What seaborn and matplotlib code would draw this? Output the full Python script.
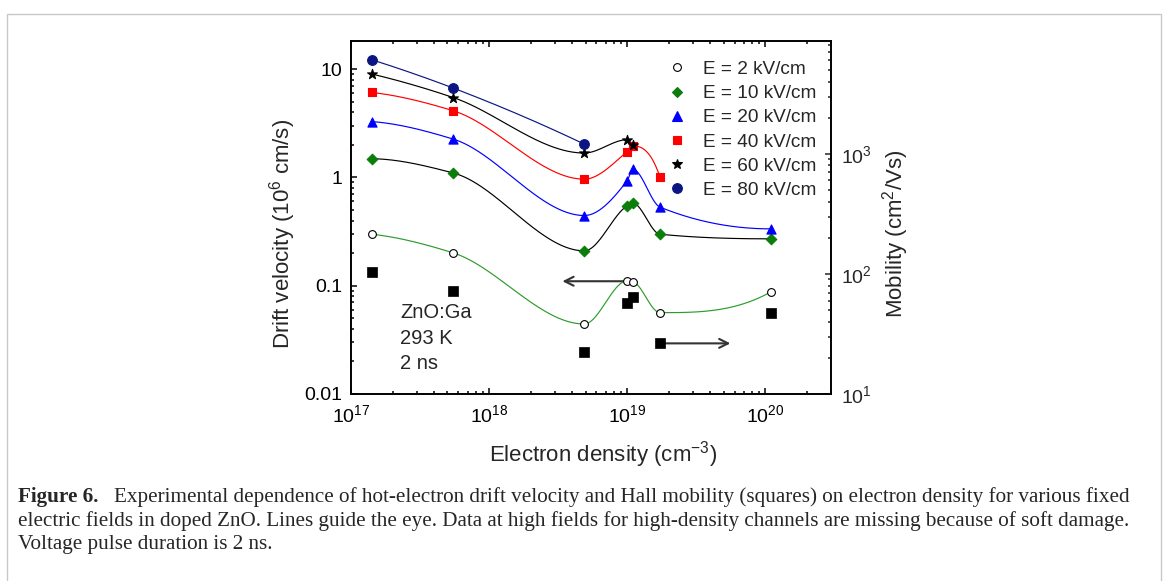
import numpy as np
import pandas as pd
import matplotlib
matplotlib.use("Agg")
import matplotlib.pyplot as plt
import seaborn as sns
from matplotlib.ticker import LogLocator, FixedLocator, FixedFormatter, NullFormatter, LogFormatterMathtext
from matplotlib.lines import Line2D
from matplotlib.patches import Rectangle

# ---------------- data ----------------
density = [1.42e17, 5.5e17, 4.9e18, 1.0e19, 1.1e19, 1.73e19, 1.1e20]
v_E2 = [0.299, 0.201, 0.0443, 0.111, 0.109, 0.0564, 0.0877]
v_E10 = [1.49, 1.10, 0.210, 0.546, 0.579, 0.299, 0.271]
v_E20 = [3.28, 2.26, 0.445, 0.93, 1.19, 0.532, 0.335]
v_E40 = [6.09, 4.13, 0.964, 1.73, 1.96, 1.01]
v_E60 = [9.01, 5.47, 1.68, 2.23, 2.00]
v_E80 = [12.2, 6.69, 2.03]
mobility = [104.5, 72.6, 22.5, 57.3, 64.7, 26.4, 47.0]
field_labels = ["E = 2 kV/cm", "E = 10 kV/cm", "E = 20 kV/cm",
                "E = 40 kV/cm", "E = 60 kV/cm", "E = 80 kV/cm"]
y_ticklabels_left = ["0.01", "0.1", "1", "10"]
sample_text = ["ZnO:Ga", "293 K", "2 ns"]
caption_bold = "Figure 6."
caption_lines = [
    "Experimental dependence of hot-electron drift velocity and Hall mobility (squares) on electron density for various fixed",
    "electric fields in doped ZnO. Lines guide the eye. Data at high fields for high-density channels are missing because of soft damage.",
    "Voltage pulse duration is 2 ns.",
]

# ---------------- style ----------------
sns.set_style("ticks")
plt.rcParams['font.family'] = ['Liberation Sans', 'DejaVu Sans']
plt.rcParams['mathtext.default'] = 'regular'

W, H, DPI = 1167, 581, 100
fig = plt.figure(figsize=(W / DPI, H / DPI), dpi=DPI)
fig.patch.set_facecolor('white')
ax = fig.add_axes([351 / W, 1 - 394 / H, 480 / W, 353 / H])
ax2 = ax.twinx()


def pchip(x, y, xn):
    x = np.asarray(x, float); y = np.asarray(y, float)
    h = np.diff(x); d = np.diff(y) / h
    n = len(x)
    m = np.zeros(n)
    for k in range(1, n - 1):
        if d[k - 1] * d[k] > 0:
            w1 = 2 * h[k] + h[k - 1]; w2 = h[k] + 2 * h[k - 1]
            m[k] = (w1 + w2) / (w1 / d[k - 1] + w2 / d[k])

    def end(h0, h1, d0, d1):
        e = ((2 * h0 + h1) * d0 - h0 * d1) / (h0 + h1)
        if np.sign(e) != np.sign(d0):
            e = 0.0
        elif np.sign(d0) != np.sign(d1) and abs(e) > abs(3 * d0):
            e = 3 * d0
        return e
    m[0] = end(h[0], h[1], d[0], d[1])
    m[-1] = end(h[-1], h[-2], d[-1], d[-2])
    idx = np.clip(np.searchsorted(x, xn) - 1, 0, n - 2)
    t = (xn - x[idx]) / h[idx]
    h00 = 2 * t**3 - 3 * t**2 + 1
    h10 = t**3 - 2 * t**2 + t
    h01 = -2 * t**3 + 3 * t**2
    h11 = t**3 - t**2
    return h00 * y[idx] + h10 * h[idx] * m[idx] + h01 * y[idx + 1] + h11 * h[idx] * m[idx + 1]


series = [
    (v_E2, 'o', 'white', 'black', '#2e9b2e', 5.6),
    (v_E10, 'D', '#0a7d0a', '#0a7d0a', 'black', 5.4),
    (v_E20, '^', '#0000ff', '#0000ff', '#0000ff', 6.6),
    (v_E40, 's', '#ff0000', '#ff0000', '#ff0000', 6.0),
    (v_E60, '*', 'black', 'black', 'black', 7.4),
    (v_E80, 'o', '#0b1682', '#0b1682', '#0b1682', 7.0),
]

ax.set_xscale('log'); ax.set_yscale('log')
ax2.set_yscale('log')

handles = []
for (vals, mk, fc, ec, lc, ms), lab in zip(series, field_labels):
    xs = np.array(density[:len(vals)])
    lx = np.log10(xs); ly = np.log10(vals)
    xn = np.linspace(lx[0], lx[-1], 400)
    yn = pchip(lx, ly, xn)
    curve = pd.DataFrame({'x': 10**xn, 'y': 10**yn})
    sns.lineplot(data=curve, x='x', y='y', ax=ax, color=lc, lw=0.85,
                 sort=False, estimator=None, legend=False, zorder=2)
    pts = pd.DataFrame({'x': xs, 'y': vals})
    sns.scatterplot(data=pts, x='x', y='y', ax=ax, marker=mk, s=ms**2,
                    color=fc, edgecolor=ec, linewidth=0.8, legend=False, zorder=3)
    handles.append(Line2D([], [], ls='none', marker=mk, markersize=ms,
                          markerfacecolor=fc, markeredgecolor=ec, markeredgewidth=0.8))

mob = pd.DataFrame({'x': density, 'y': mobility})
sns.scatterplot(data=mob, x='x', y='y', ax=ax2, marker='s', s=7.4**2,
                color='black', edgecolor='black', linewidth=0.5, legend=False, zorder=3)

# limits / ticks
ax.set_xlim(1e17, 3e20)
ax.set_ylim(0.01, 18.2)
ax2.set_ylim(10, 8700)

ax.xaxis.set_major_locator(LogLocator(base=10, numticks=10))
ax.xaxis.set_minor_locator(LogLocator(base=10, subs=np.arange(2, 10), numticks=20))
ax.xaxis.set_major_formatter(LogFormatterMathtext())
ax.xaxis.set_minor_formatter(NullFormatter())
ax.yaxis.set_major_locator(FixedLocator([0.01, 0.1, 1, 10]))
ax.yaxis.set_major_formatter(FixedFormatter(y_ticklabels_left))
ax.yaxis.set_minor_locator(LogLocator(base=10, subs=np.arange(2, 10), numticks=20))
ax.yaxis.set_minor_formatter(NullFormatter())
ax2.yaxis.set_major_locator(LogLocator(base=10, numticks=10))
ax2.yaxis.set_major_formatter(LogFormatterMathtext())
ax2.yaxis.set_minor_locator(LogLocator(base=10, subs=np.arange(2, 10), numticks=20))
ax2.yaxis.set_minor_formatter(NullFormatter())

ax.tick_params(which='both', direction='in', top=True, right=False, labelsize=14,
               width=1.1, colors='black')
ax.tick_params(which='major', length=4.5)
ax.tick_params(which='minor', length=2.5)
ax.tick_params(axis='y', pad=6)
ax.tick_params(axis='x', pad=7.5)
ax2.tick_params(which='both', direction='in', labelsize=14, width=1.1, pad=7)
ax2.tick_params(which='major', length=4.5)
ax2.tick_params(which='minor', length=2.5)
for a in (ax, ax2):
    for s in a.spines.values():
        s.set_linewidth(1.2); s.set_color('black')

# labels
ax.set_xlabel("Electron density (cm$^{-3}$)", fontsize=16)
ax.set_ylabel("Drift velocity (10$^6$ cm/s)", fontsize=16)
ax2.set_ylabel("Mobility (cm$^2$/Vs)", fontsize=16)
ax.xaxis.set_label_coords((603 - 351) / 480, (394 - 455) / 353)
ax.xaxis.label.set_va('center')
ax.yaxis.set_label_coords((283 - 351) / 480, (394 - 234) / 353)
ax.yaxis.label.set_va('center')
ax2.yaxis.set_label_coords((896 - 351) / 480, (394 - 234) / 353)
ax2.yaxis.label.set_va('center')

# legend
leg = ax.legend(handles, field_labels, loc='upper left', bbox_to_anchor=(0.659, 0.944),
                frameon=False, fontsize=13.7, handlelength=1.0, handletextpad=0.87,
                labelspacing=0.36, borderpad=0, borderaxespad=0)

# arrows
ax.annotate('', xy=(3.4e18, 0.11), xytext=(9.7e18, 0.11),
            arrowprops=dict(arrowstyle='->', color='#333333', lw=1.5,
                            mutation_scale=16, shrinkA=0, shrinkB=0), zorder=1)
ax2.annotate('', xy=(5.6e19, 26.4), xytext=(1.8e19, 26.4),
             arrowprops=dict(arrowstyle='->', color='#333333', lw=1.5,
                             mutation_scale=16, shrinkA=0, shrinkB=0), zorder=1)

# sample text
for t, yv in zip(sample_text, [0.0568, 0.0328, 0.0193]):
    ax.text(2.27e17, yv, t, fontsize=14.5, va='center', ha='left')

# border
fig.add_artist(Rectangle((7 / W, 1 - 600 / H), 1154 / W, (600 - 14) / H,
                         transform=fig.transFigure, fill=False,
                         edgecolor='#c8c8c8', lw=1.0))

# caption
serif = ['Liberation Serif', 'DejaVu Serif']
fs0 = 12.0
renderer = fig.canvas.get_renderer()
tb = fig.text(18 / W, 1 - 497 / H, caption_bold, fontsize=fs0, fontweight='bold',
              family=serif, va='center', ha='left')
tr = fig.text(0, 1 - 497 / H, caption_lines[0], fontsize=fs0, family=serif,
              va='center', ha='left')
wb = tb.get_window_extent(renderer).width
wr = tr.get_window_extent(renderer).width
gap_em = 0.75
target = 1127 - 18
fs = target / ((wb + wr) / fs0 + gap_em * DPI / 72)
tb.set_fontsize(fs); tr.set_fontsize(fs)
tr.set_x((18 + wb * fs / fs0 + gap_em * fs * DPI / 72) / W)
for line, yc in zip(caption_lines[1:], [521, 545]):
    fig.text(18 / W, 1 - yc / H, line, fontsize=fs, family=serif, va='center', ha='left')

fig.savefig("out.png", dpi=DPI, facecolor='white')
